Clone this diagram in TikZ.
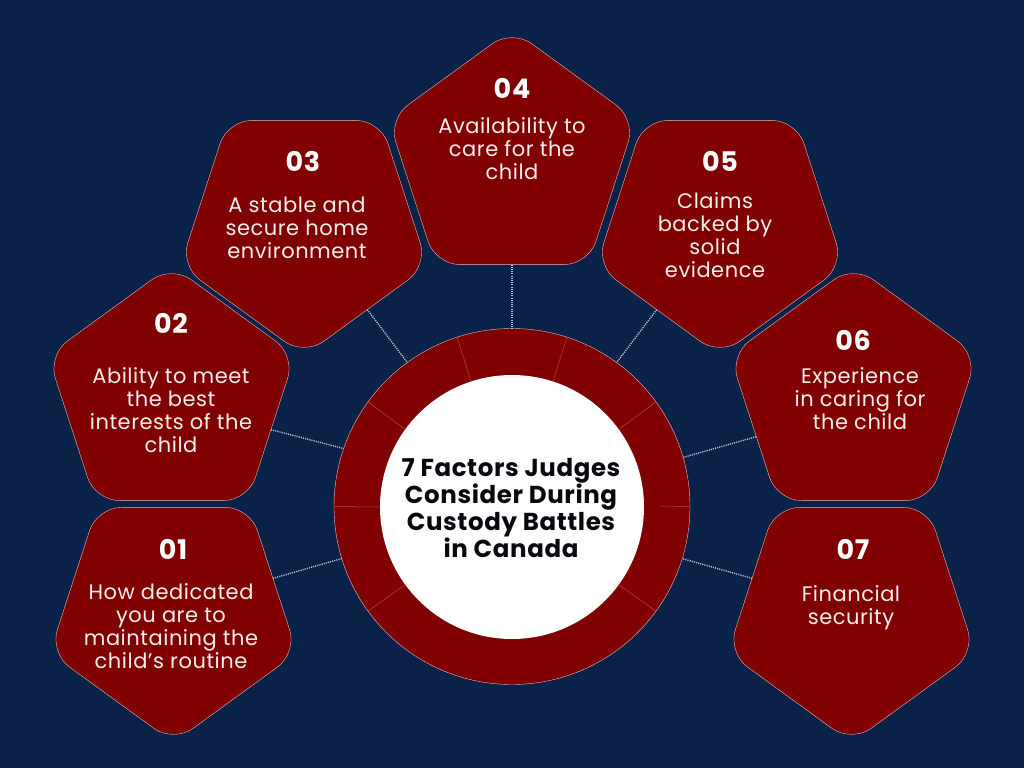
\documentclass[tikz,border=0pt]{standalone}
\usepackage{fontspec}
\setmainfont[LetterSpace=2.5]{Poppins}
\usetikzlibrary{shapes.geometric}
\definecolor{navy}{HTML}{0A2148}
\definecolor{maroon}{HTML}{800000}
\definecolor{spokeline}{HTML}{B4474A}
\definecolor{dotline}{HTML}{B9C6D6}
\definecolor{inkblack}{HTML}{08080F}

\begin{document}
\begin{tikzpicture}[x=1pt, y=-1pt]
    \tikzstyle{pentup} = [regular polygon, regular polygon sides=5, minimum size=260pt, inner sep=0pt, outer sep=0pt, fill=maroon, draw=white!75!maroon, line width=0.4pt, rounded corners=24pt];
    \tikzstyle{pentdown} = [pentup, shape border rotate=180];
    \tikzstyle{number} = [text=white, font=\fontsize{27}{29}\selectfont\bfseries];
    \tikzstyle{label} = [text=white!93!maroon, align=center, font=\fontsize{21}{23}\selectfont];
    \tikzstyle{title} = [text=inkblack, align=center, font=\fontsize{24.5}{26.7}\selectfont\bfseries];
    \tikzstyle{link} = [dotline, line width=1.4pt, dash pattern=on 1.1pt off 1.1pt];

    \fill[navy] (0, 0) rectangle (1024, 768);
    \useasboundingbox (0, 0) rectangle (1024, 768);

    \node[pentdown] (p1) at (173.5, 612.6) {};
    \node[pentup] (p2) at (171.5, 395.4) {};
    \node[pentdown] (p3) at (304, 225.6) {};
    \node[pentup] (p4) at (512, 159.4) {};
    \node[pentdown] (p5) at (720, 225.6) {};
    \node[pentup] (p6) at (853.5, 395.4) {};
    \node[pentdown] (p7) at (851.5, 612.6) {};

    \node[circle, minimum size=356pt, inner sep=0pt, outer sep=0pt, fill=maroon, draw=white!75!maroon, line width=0.4pt] (ring) at (512, 506.5) {};
    \node[circle, minimum size=264pt, inner sep=0pt, outer sep=0pt, fill=white] (core) at (512, 507) {};

    % dividers in the ring
    \foreach \a in {36, 72, 108, 144, 180, 216, 324} {
        \draw[spokeline, line width=0.5pt] (core.\a) -- (ring.\a);
    }
    \coordinate (cut) at (660, 506);
    \draw[spokeline, line width=0.5pt] (cut) -- (ring.0);

    \draw[link] (p1.19) -- (ring.197.6);
    \draw[link] (p2.-19) -- (ring.161);
    \draw[link] (p3.-53.5) -- (ring.126);
    \draw[link] (p4.-90) -- (ring.90);
    \draw[link] (p5.233.5) -- (ring.54);
    \draw[link] (p6.203.8) -- (ring.16.5);
    \draw[link] (p7.161.9) -- (ring.-17);

    \node[number] (n1) at (173, 549) {01};
    \node[number] (n2) at (171, 323) {02};
    \node[number] (n3) at (303, 161) {03};
    \node[number] (n4) at (512, 88) {04};
    \node[number] (n5) at (720, 161) {05};
    \node[number] (n6) at (853, 340) {06};
    \node[number] (n7) at (853, 549) {07};

    \node[label] (t1) at (171, 626.5) {How dedicated\\you are to\\maintaining the\\child’s routine};
    \node[label] (t2) at (171, 410) {Ability to meet\\the best\\interests of the\\child};
    \node[label] (t3) at (297, 228) {A stable and\\secure home\\environment};
    \node[label] (t4) at (512, 149) {Availability to\\care for the\\child};
    \node[label] (t5) at (715, 235.5) {Claims\\backed by\\solid\\evidence};
    \node[label] (t6) at (860, 399) {Experience\\in caring for\\the child};
    \node[label] (t7) at (851, 608) {Financial\\security};

    \node[title] (head) at (511, 508) {7 Factors Judges\\Consider During\\Custody Battles\\in Canada};
\end{tikzpicture}
\end{document}
